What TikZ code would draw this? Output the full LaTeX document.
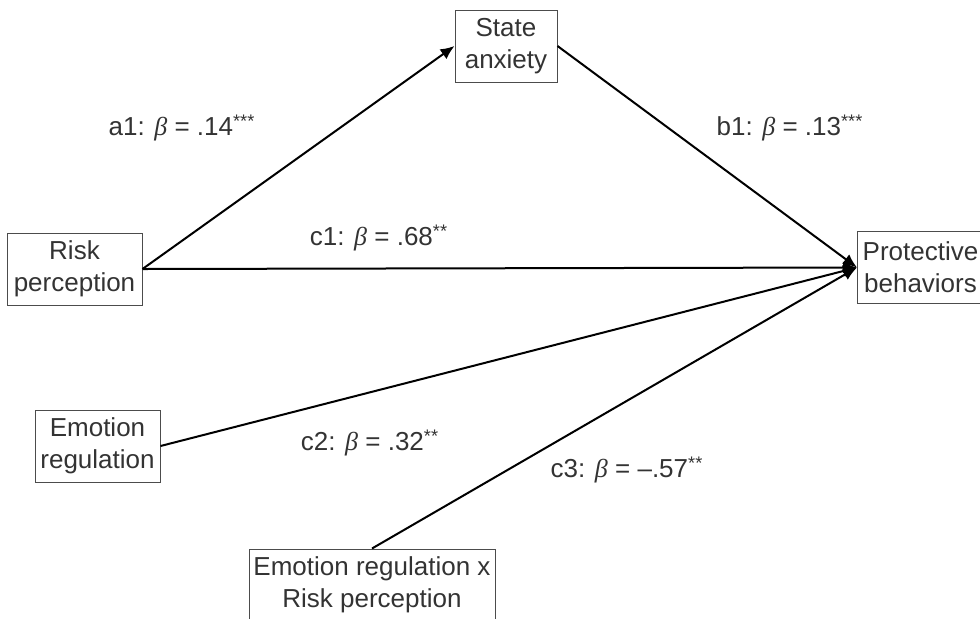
\documentclass[tikz,border=0pt]{standalone}
\usepackage{fontspec}
\setmainfont{Liberation Sans}
\newfontfamily\betafont{Liberation Serif}
\newcommand{\bet}{{\betafont\itshape β}}
\usetikzlibrary{arrows.meta}

\begin{document}
\begin{tikzpicture}[
    x=0.5pt,y=-0.5pt,
    box/.style={draw=black!70,line width=0.5pt,align=center,inner sep=2pt,
        font=\fontsize{13}{16}\selectfont,text=black!80,minimum height=36pt},
    coef/.style={font=\fontsize{13}{16}\selectfont,text=black!80,inner sep=0pt},
    arrow/.style={-{Latex[length=7pt,width=6pt]},line width=1pt}
]
\useasboundingbox (0,0) rectangle (980,618);
\node[box,minimum width=51pt] (anxiety) at (506,46) {State\\anxiety};
\node[box,minimum width=67.5pt] (risk) at (74.5,269) {Risk\\perception};
\node[box,minimum width=62.5pt] (emotion) at (97.5,446) {Emotion\\regulation};
\node[box,anchor=west,minimum width=63pt] (protect) at (857,267.5) {Protective\\behaviors};
\node[box,minimum width=123pt] (inter) at (372,585) {Emotion regulation x\\Risk perception};

\node[coef] (a1) at (182,128) {a1: \bet{} = .14\textsuperscript{***}};
\node[coef] (b1) at (790,128) {b1: \bet{} = .13\textsuperscript{***}};
\node[coef] (c1) at (379,238) {c1: \bet{} = .68\textsuperscript{**}};
\node[coef] (c2) at (370,443) {c2: \bet{} = .32\textsuperscript{**}};
\node[coef] (c3) at (627,470) {c3: \bet{} = –.57\textsuperscript{**}};

\draw[arrow] (risk.east) -- (anxiety.west);
\draw[arrow] (anxiety.east) -- (protect.west);
\draw[arrow] (risk.east) -- (protect.west);
\draw[arrow] (emotion.east) -- (protect.west);
\draw[arrow] (inter.north) -- (protect.west);
\end{tikzpicture}
\end{document}
